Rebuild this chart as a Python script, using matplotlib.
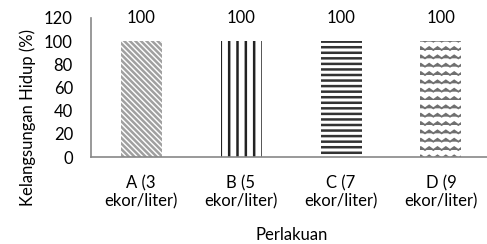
import numpy as np
import matplotlib
matplotlib.use("Agg")
import matplotlib.pyplot as plt
from matplotlib import hatch as mhatch
from matplotlib.path import Path

# ---- data ----
categories = ["A (3\nekor/liter)", "B (5\nekor/liter)", "C (7\nekor/liter)", "D (9\nekor/liter)"]
values = [100, 100, 100, 100]
y_ticks = [0, 20, 40, 60, 80, 100, 120]
y_label = "Kelangsungan Hidup (%)"
x_label = "Perlakuan"

# ---- custom zigzag hatch ----
class ZigZagHatch(mhatch.HatchPatternBase):
    def __init__(self, hatch, density):
        self.n = int(hatch.count('z') * density)
        self.per_row = 2 * self.n + 1
        self.num_vertices = self.n * self.per_row if self.n else 0

    def set_vertices_and_codes(self, vertices, codes):
        n = self.n
        xs = np.linspace(0, 1, self.per_row)
        amp = 0.35 / n
        for r in range(n):
            y0 = r / n
            ys = y0 + np.where(np.arange(self.per_row) % 2 == 0, 0.0, amp)
            sl = slice(r * self.per_row, (r + 1) * self.per_row)
            vertices[sl, 0] = xs
            vertices[sl, 1] = ys
            codes[sl] = Path.LINETO
            codes[r * self.per_row] = Path.MOVETO

mhatch._hatch_types.append(ZigZagHatch)

plt.rcParams['font.family'] = ['Lato', 'DejaVu Sans']
FS = 12

W, H = 487, 244
fig = plt.figure(figsize=(W / 100, H / 100), dpi=100)
ax = fig.add_axes([91 / W, 1 - 157 / H, 400 / W, 139 / H])

x = np.arange(len(categories))
hatches = ['\\' * 6, '||', '---', 'zz']
hcolors = ['#a0a0a0', '#222222', '#333333', '#707070']
hlw = [1.8, 1.8, 1.8, 1.3]
for i in range(len(categories)):
    with plt.rc_context({'hatch.linewidth': hlw[i]}):
        ax.bar(x[i], values[i], width=0.41, color='white',
               edgecolor=hcolors[i], hatch=hatches[i], linewidth=0)
    ax.annotate(str(values[i]), (x[i], values[i]), xytext=(0, 16.5),
                textcoords='offset points', ha='center', va='center',
                fontsize=FS, color='black')

ax.set_xlim(-0.5, len(categories) - 0.5)
ax.set_ylim(0, 120)
ax.set_yticks(y_ticks)
ax.set_xticks(x)
ax.set_xticklabels(categories, fontsize=FS, linespacing=1.15)
ax.tick_params(axis='y', length=0, pad=13, labelsize=FS)
ax.tick_params(axis='x', length=0, pad=13)
for s in ['top', 'right']:
    ax.spines[s].set_visible(False)
for s in ['left', 'bottom']:
    ax.spines[s].set_color('#878787')
    ax.spines[s].set_linewidth(1.2)

fig.text(28 / W, 1 - 117 / H, y_label, rotation=90, ha='center', va='center', fontsize=FS)
fig.text(292 / W, 1 - 235 / H, x_label, ha='center', va='center', fontsize=FS)

fig.savefig('out.png', dpi=100)
